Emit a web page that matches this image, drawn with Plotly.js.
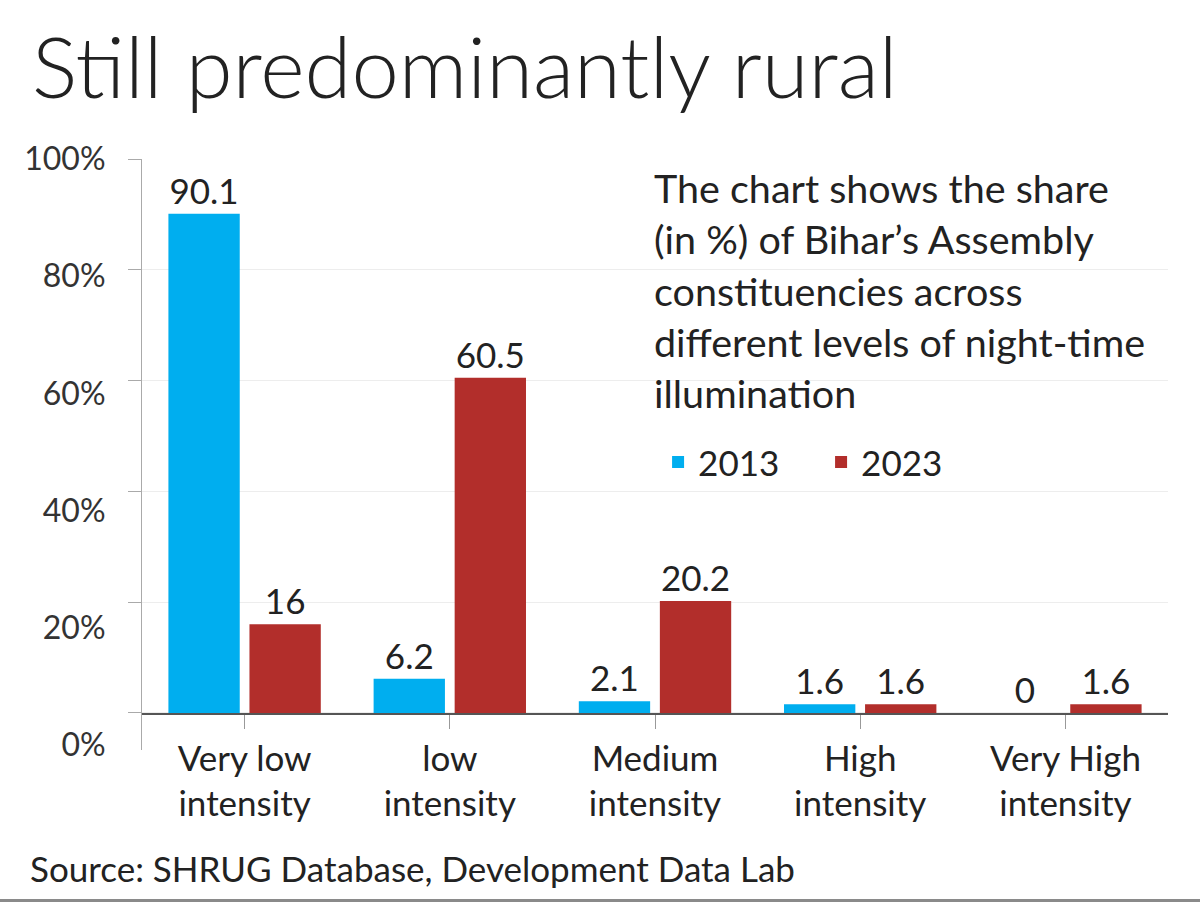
<!DOCTYPE html>
<html>
<head>
<meta charset="utf-8">
<script src="https://cdn.plot.ly/plotly-3.0.1.min.js"></script>
<style>
  html, body { margin: 0; padding: 0; background: #8a8a8a; }
  #chart { width: 1200px; height: 899px; background: #fff; }
</style>
</head>
<body>
<div id="chart"></div>
<script>
const categories = ['Very low<br>intensity', 'low<br>intensity', 'Medium<br>intensity', 'High<br>intensity', 'Very High<br>intensity'];
const values2013 = [90.1, 6.2, 2.1, 1.6, 0];
const values2023 = [16, 60.5, 20.2, 1.6, 1.6];
const seriesNames = ['2013', '2023'];
const yTickVals = [0, 20, 40, 60, 80, 100];
const yTickText = ['0%', '20%', '40%', '60%', '80%', '100%'];
const titleText = 'Still predominantly rural';
const noteText = 'The chart shows the share<br>(in %) of Bihar\u2019s Assembly<br>constituencies across<br>different levels of night-time<br>illumination';
const sourceText = 'Source: SHRUG Database, Development Data Lab';

const FONT = 'Lato, "Open Sans", sans-serif';
const INK = '#222222';

const traces = [
  {
    type: 'bar', name: seriesNames[0], x: categories, y: values2013,
    marker: { color: '#00AEEF' },
    text: values2013.map(String), textposition: 'outside', cliponaxis: false,
    textfont: { family: FONT, size: 35, color: INK },
    hoverinfo: 'x+y'
  },
  {
    type: 'bar', name: seriesNames[1], x: categories, y: values2023,
    marker: { color: '#B22E2B' },
    text: values2023.map(String), textposition: 'outside', cliponaxis: false,
    textfont: { family: FONT, size: 35, color: INK },
    hoverinfo: 'x+y'
  },
  { type: 'scatter', x: [], y: [], yaxis: 'y2', showlegend: false, hoverinfo: 'skip' }
];

const layout = {
  width: 1200, height: 899,
  paper_bgcolor: '#ffffff', plot_bgcolor: '#ffffff',
  margin: { l: 142, r: 32, t: 159, b: 149 },
  font: { family: FONT, color: INK },
  title: {
    text: titleText, xref: 'container', yref: 'container',
    x: 0.0267, xanchor: 'left', y: 0.924, yanchor: 'middle',
    font: { family: FONT, size: 85, weight: 300, color: INK }
  },
  barmode: 'group', bargap: 0.21, bargroupgap: 0.12,
  showlegend: true,
  legend: {
    orientation: 'h', x: 0.503, xanchor: 'left', y: 0.487, yanchor: 'middle',
    font: { family: FONT, size: 35, color: INK }, bgcolor: 'rgba(0,0,0,0)',
    traceorder: 'normal', entrywidth: 118, entrywidthmode: 'pixels'
  },
  xaxis: {
    type: 'category', anchor: 'free', position: 0.0626,
    showline: true, linecolor: '#555555', linewidth: 1.5,
    ticks: 'outside', ticklen: 14, tickcolor: '#999999', tickwidth: 1,
    tickfont: { family: FONT, size: 35, color: INK },
    showgrid: false, zeroline: false, fixedrange: true
  },
  yaxis: {
    range: [-6.68, 100], tickvals: yTickVals, showticklabels: false,
    ticks: 'outside', ticklen: 13, tickcolor: '#aaaaaa',
    showline: true, linecolor: '#aaaaaa', linewidth: 1,
    showgrid: true, gridcolor: '#ededed', zeroline: false, fixedrange: true
  },
  yaxis2: {
    overlaying: 'y', side: 'left', range: [-0.853, 100],
    tickvals: yTickVals, ticktext: yTickText,
    ticks: 'outside', ticklen: 13, tickcolor: 'rgba(0,0,0,0)',
    ticklabelstandoff: 16,
    showline: false, showgrid: false, zeroline: false, fixedrange: true,
    tickfont: { family: FONT, size: 32, color: '#333333' }
  },
  annotations: [
    {
      text: noteText, xref: 'paper', yref: 'paper', x: 0.497, y: 0.995,
      xanchor: 'left', yanchor: 'top', align: 'left', showarrow: false,
      font: { family: FONT, size: 39.5, color: INK }
    },
    {
      text: sourceText, xref: 'paper', yref: 'paper', x: -0.111, y: -0.2,
      xanchor: 'left', yanchor: 'middle', align: 'left', showarrow: false,
      font: { family: FONT, size: 35, color: INK }
    }
  ]
};

Plotly.newPlot('chart', traces, layout, { displayModeBar: false, staticPlot: true });
</script>
</body>
</html>
